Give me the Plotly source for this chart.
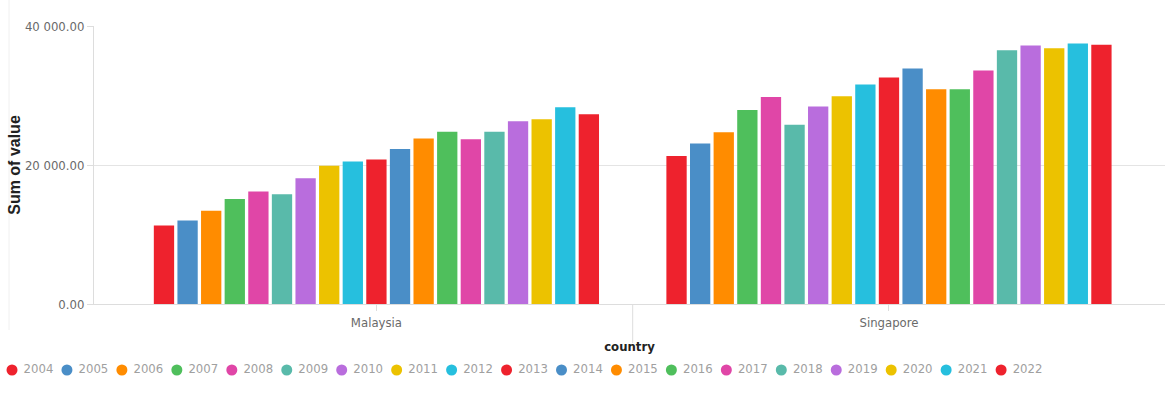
import plotly.graph_objects as go

countries = ["Malaysia", "Singapore"]
years = ["2004", "2005", "2006", "2007", "2008", "2009", "2010", "2011", "2012", "2013",
         "2014", "2015", "2016", "2017", "2018", "2019", "2020", "2021", "2022"]
malaysia = [11300, 12000, 13400, 15100, 16200, 15800, 18100, 19900, 20500, 20800,
            22300, 23800, 24800, 23700, 24800, 26300, 26600, 28300, 27300]
singapore = [21300, 23100, 24700, 27900, 29800, 25800, 28400, 29900, 31600, 32600,
             33900, 30900, 30900, 33600, 36500, 37200, 36800, 37500, 37300]
palette = ["#ee222d", "#4a8ec7", "#ff8c00", "#4fbf5c", "#e046a7",
           "#59baaa", "#b96ddd", "#ecc200", "#26bfde"]
colors = [palette[i % len(palette)] for i in range(len(years))]

W, H = 1167, 395
TOP = 26
PH = H - TOP
cond = "DejaVu Sans Condensed, Liberation Sans Narrow, Roboto, sans-serif"
bold = "Liberation Sans, Arial, sans-serif"

fig = go.Figure()
for j, yr in enumerate(years):
    fig.add_trace(go.Bar(
        x=countries, y=[malaysia[j], singapore[j]], name=yr,
        marker=dict(color=colors[j], line=dict(width=0)),
        showlegend=False, xaxis="x", yaxis="y"))

# legend strip drawn as markers + text
fig.add_trace(go.Scatter(
    x=list(range(len(years))), y=[0] * len(years), mode="markers+text",
    text=years, texttemplate=" %{text}", textposition="middle right",
    textfont=dict(family=cond, size=13, color="#a0a0a0"),
    marker=dict(symbol="circle", size=11, color=colors),
    showlegend=False, hoverinfo="skip", cliponaxis=False,
    xaxis="x2", yaxis="y2"))

def py(px):
    return (H - px) / PH

y_bottom = py(304)
step = 54.95
x0 = 12
fig.update_layout(
    width=W, height=H,
    margin=dict(l=0, r=0, t=TOP, b=0, autoexpand=False),
    paper_bgcolor="white", plot_bgcolor="white",
    separators=". ",
    barmode="group", bargap=0.125, bargroupgap=0.14,
    showlegend=False,
    xaxis=dict(type="category", domain=[94 / W, 1165 / W], anchor="y",
               range=[-0.551, 1.5385], showgrid=False, automargin=False,
               showline=True, linecolor="#dddddd", linewidth=1,
               ticks="outside", ticklen=6, tickcolor="#dddddd",
               tickfont=dict(family=cond, size=13, color="#6a6a6a"),
               title=dict(text="country", standoff=13,
                          font=dict(family=cond, size=13, color="#222222", weight="bold"))),
    yaxis=dict(domain=[y_bottom, 1], anchor="x", range=[0, 40000], automargin=False,
               tickvals=[0, 20000, 40000], tickformat=",.2f",
               showgrid=True, gridcolor="#e4e4e4", gridwidth=1,
               showline=True, linecolor="#dddddd", linewidth=1,
               ticks="outside", ticklen=6, tickcolor="#dddddd",
               zeroline=False,
               tickfont=dict(family=cond, size=13, color="#6a6a6a"),
               title=dict(text="Sum of value", standoff=0,
                          font=dict(family=bold, size=16, color="#222222", weight="bold"))),
    xaxis2=dict(domain=[0, 1], anchor="y2", range=[-x0 / step, (W - x0) / step],
                visible=False, fixedrange=True),
    yaxis2=dict(domain=[py(379), py(361)], anchor="x2",
                range=[-1, 1], visible=False, fixedrange=True),
    shapes=[
        dict(type="line", xref="x", yref="paper", x0=0.5, x1=0.5,
             y0=y_bottom, y1=py(343),
             line=dict(color="#dddddd", width=1)),
        dict(type="line", xref="paper", yref="paper", x0=9 / W, x1=9 / W,
             y0=py(330), y1=1 + TOP / PH,
             line=dict(color="#f0f0f0", width=1)),
    ],
)

fig.write_html("out.html")
